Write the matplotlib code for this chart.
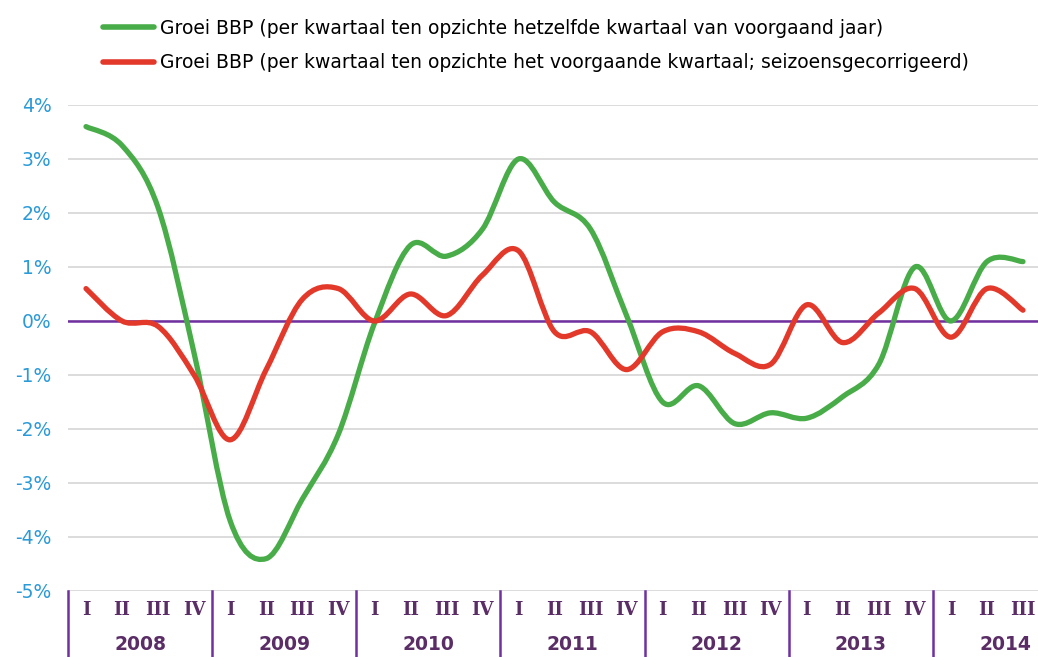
import matplotlib
matplotlib.use("Agg")
import matplotlib.pyplot as plt
from matplotlib.path import Path
from matplotlib.patches import PathPatch
from matplotlib.lines import Line2D
from matplotlib.transforms import blended_transform_factory
import numpy as np

years = ["2008", "2009", "2010", "2011", "2012", "2013", "2014"]
quarters = ["I", "II", "III", "IV"]
n_quarters = 27  # 2008 I .. 2014 III

green_label = "Groei BBP (per kwartaal ten opzichte hetzelfde kwartaal van voorgaand jaar)"
red_label = "Groei BBP (per kwartaal ten opzichte het voorgaande kwartaal; seizoensgecorrigeerd)"

green_vals = [3.6, 3.25, 2.1, -0.6,
              -3.7, -4.4, -3.3, -2.1,
              -0.05, 1.4, 1.2, 1.7,
              3.0, 2.2, 1.7, 0.1,
              -1.5, -1.2, -1.9, -1.7,
              -1.8, -1.4, -0.8, 1.0,
              0.0, 1.1, 1.1]
red_vals = [0.6, 0.0, -0.1, -1.0,
            -2.2, -0.9, 0.4, 0.6,
            0.0, 0.5, 0.1, 0.85,
            1.3, -0.2, -0.2, -0.9,
            -0.2, -0.2, -0.6, -0.8,
            0.3, -0.4, 0.15, 0.6,
            -0.3, 0.6, 0.2]

yticks = [-5, -4, -3, -2, -1, 0, 1, 2, 3, 4]
ytick_labels = ["%d%%" % v for v in yticks]

GREEN = "#48AC48"
RED = "#E2392B"
PURPLE = "#7030A0"
LABEL_PURPLE = "#5B2D66"
BLUE = "#2A9AD8"
GRID = "#D9D9D9"


def smooth_path(xs, ys):
    pts = np.column_stack([xs, ys]).astype(float)
    n = len(pts)
    verts = [pts[0]]
    codes = [Path.MOVETO]
    for i in range(n - 1):
        p0 = pts[i - 1] if i > 0 else pts[i]
        p1 = pts[i]
        p2 = pts[i + 1]
        p3 = pts[i + 2] if i + 2 < n else pts[i + 1]
        c1 = p1 + (p2 - p0) / 6.0
        c2 = p2 - (p3 - p1) / 6.0
        verts += [c1, c2, p2]
        codes += [Path.CURVE4] * 3
    return Path(verts, codes)


W, H = 1038, 657
fig = plt.figure(figsize=(W / 100, H / 100), dpi=100)
left, right = 68 / W, 1041 / W
bottom, top = 1 - 591 / H, 1 - 105 / H
ax = fig.add_axes([left, bottom, right - left, top - bottom])

ax.set_xlim(0, n_quarters)
ax.set_ylim(-5, 4)

for v in yticks:
    ax.axhline(v, color=GRID, lw=1.3, zorder=1)
ax.axhline(0, color=PURPLE, lw=1.8, zorder=2)

xs = np.arange(n_quarters) + 0.5
for vals, col in [(green_vals, GREEN), (red_vals, RED)]:
    patch = PathPatch(smooth_path(xs, vals), facecolor="none", edgecolor=col,
                      lw=3.8, capstyle="round", joinstyle="round", zorder=3)
    ax.add_patch(patch)

ax.set_yticks(yticks)
ax.set_yticklabels(ytick_labels, color=BLUE, fontsize=13.5)
ax.tick_params(axis="y", length=0, pad=12)
ax.set_xticks([])
for s in ax.spines.values():
    s.set_visible(False)

# category axis
xfig = blended_transform_factory(ax.transData, fig.transFigure)
for k in range(len(years)):
    x0 = 4 * k
    ax.plot([x0, x0], [0, -0.16], transform=ax.get_xaxis_transform(),
            color=PURPLE, lw=1.8, clip_on=False)
    for q in range(4):
        idx = 4 * k + q
        if idx >= n_quarters:
            break
        ax.text(idx + 0.5, -0.040, quarters[q], transform=ax.get_xaxis_transform(),
                ha="center", va="center", fontsize=13, fontweight="bold",
                family="DejaVu Serif", color=LABEL_PURPLE, clip_on=False)
    ax.text(x0 + 2, 3 / H, years[k], transform=xfig,
            ha="center", va="bottom", fontsize=13.5, fontweight="bold",
            color=LABEL_PURPLE, clip_on=False)

handles = [Line2D([], [], color=GREEN, lw=4, solid_capstyle="round"),
           Line2D([], [], color=RED, lw=4, solid_capstyle="round")]
fig.legend(handles, [green_label, red_label], loc="upper left",
           bbox_to_anchor=(95 / W, 1 - 11 / H), frameon=False, fontsize=13.5,
           handlelength=2.75, handletextpad=0.3, labelspacing=0.85,
           borderaxespad=0)

fig.savefig("out.png", dpi=100)
